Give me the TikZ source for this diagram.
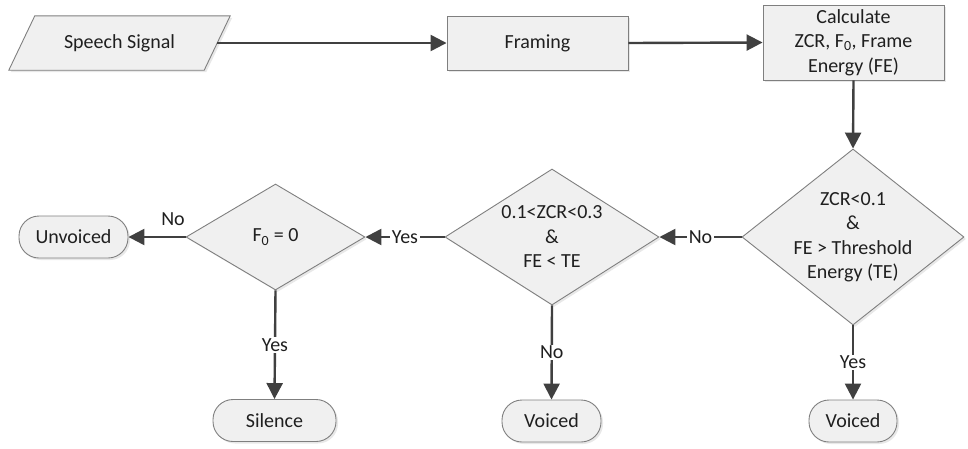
\documentclass[tikz,border=0pt]{standalone}
\usepackage{fontspec}
\setmainfont{Carlito}
\usetikzlibrary{shapes.geometric,arrows.meta,shadows,calc}
\definecolor{boxfill}{HTML}{F0F0F0}
\definecolor{boxline}{HTML}{7F7F7F}
\definecolor{arrowc}{HTML}{404040}
\tikzset{
  base/.style={draw=boxline, line width=0.9pt, fill=boxfill, inner sep=0pt, align=center,
    font=\fontsize{20}{24.5}\selectfont, text=black!88,
    drop shadow={opacity=0.18, shadow xshift=2pt, shadow yshift=-2pt}},
  procbox/.style={base, rectangle},
  termbox/.style={base, rectangle, rounded corners=20pt, minimum height=42pt},
  dia/.style={base, diamond},
  ghost/.style={inner sep=0pt, minimum width=195pt, minimum height=54pt},
  flow/.style={draw=arrowc, line width=2.4pt, -{Triangle[length=16pt,width=16pt]}},
  lbl/.style={fill=white, inner sep=1.5pt, font=\fontsize{20}{24}\selectfont, text=black!88},
  txt/.style={align=center, font=\fontsize{20}{24.5}\selectfont, text=black!88}
}
\begin{document}
\begin{tikzpicture}[x=1pt,y=-1pt]
\useasboundingbox (0,0) rectangle (968,448);
% parallelogram
\node[ghost] (ss) at (119.5,43) {};
\path[draw=boxline, line width=0.9pt, fill=boxfill, drop shadow={opacity=0.18, shadow xshift=2pt, shadow yshift=-2pt}]
  ($(ss.south west)+(-13pt,0)$) -- ($(ss.south east)+(-13pt,0)$) -- ($(ss.north east)+(13pt,0)$) -- ($(ss.north west)+(13pt,0)$) -- cycle;
\node[txt] (sst) at (ss) {Speech Signal};
\node[procbox, minimum width=181pt, minimum height=54pt] (fr) at (537.5,43) {Framing};
\node[procbox, minimum width=181pt, minimum height=75pt] (calc) at (853.5,42.5) {Calculate\\ZCR, F\textsubscript{0}, Frame\\Energy (FE)};
\node[dia, minimum width=222pt, minimum height=176pt, label={[txt]center:ZCR<0.1\\\&\\FE > Threshold\\Energy (TE)}] (d1) at (853,237) {};
\node[dia, minimum width=214pt, minimum height=136pt, label={[txt]center:0.1<ZCR<0.3\\\&\\FE < TE}] (d2) at (552,237) {};
\node[dia, minimum width=179pt, minimum height=106pt, label={[txt]center:F\textsubscript{0} = 0}] (d3) at (275.5,237) {};
\node[termbox, minimum width=88pt] (v1) at (853,421) {Voiced};
\node[termbox, minimum width=99pt] (v2) at (551.5,421) {Voiced};
\node[termbox, minimum width=123pt] (sil) at (274.5,420.5) {Silence};
\node[termbox, minimum width=109pt] (unv) at (73.5,237) {Unvoiced};
% connectors
\draw[flow] (ss.east) -- (fr.west);
\draw[flow] (fr.east) -- (calc.west);
\draw[flow] (calc.south) -- (d1.north);
\draw[flow] (d1.west) -- node[lbl] {No} (d2.east);
\draw[flow] (d2.west) -- node[lbl] {Yes} (d3.east);
\draw[flow] (d3.west) -- node[lbl, pos=0.22, above=9pt, fill=none] {No} (unv.east);
\draw[flow] (d3.south) -- node[lbl] {Yes} (sil.north);
\draw[flow] (d2.south) -- node[lbl] {No} (v2.north);
\draw[flow] (d1.south) -- node[lbl] {Yes} (v1.north);
\end{tikzpicture}
\end{document}
